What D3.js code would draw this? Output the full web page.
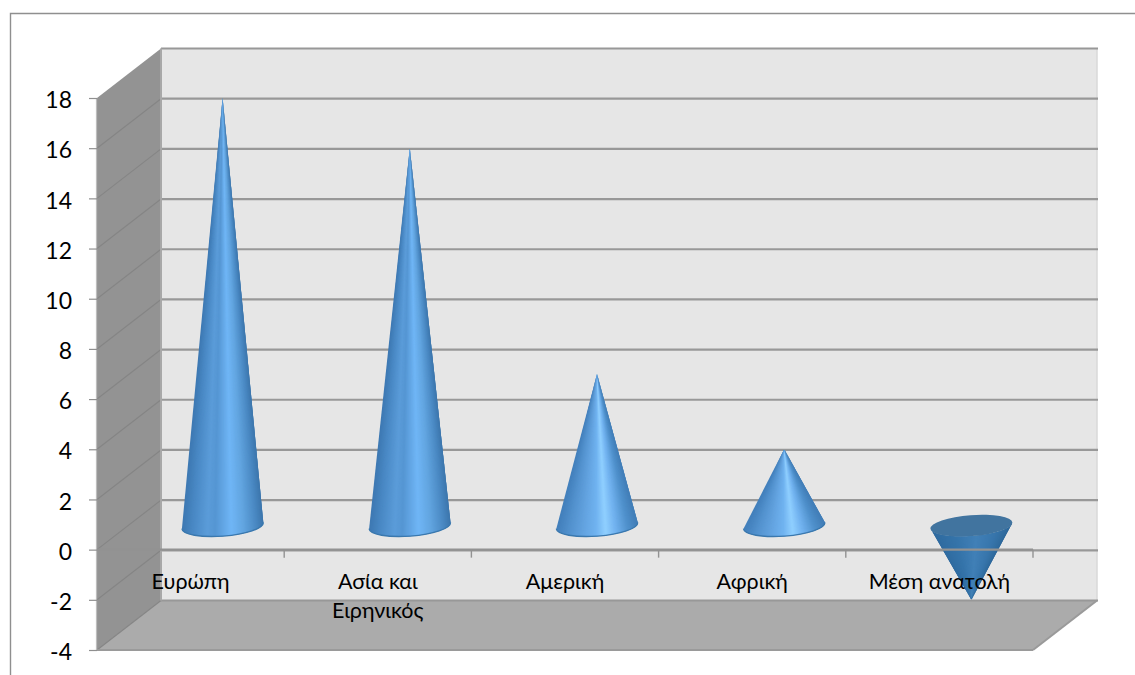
<!DOCTYPE html>
<html>
<head>
<meta charset="utf-8">
<script src="https://cdn.jsdelivr.net/npm/d3@7/dist/d3.min.js"></script>
<style>
html,body{margin:0;padding:0;background:#fff;overflow:hidden}
svg{display:block}
text{font-family:Lato,"Open Sans",sans-serif;fill:#000}
</style>
</head>
<body>
<svg id="chart" width="1135" height="675"></svg>
<script>
const categories = ["Ευρώπη", "Ασία και|Ειρηνικός", "Αμερική", "Αφρική", "Μέση ανατολή"];
const seriesValues = [18, 16, 7, 4, -2];
const tickValues = [18, 16, 14, 12, 10, 8, 6, 4, 2, 0, -2, -4];

const svg = d3.select("#chart");
const depth = {x: 64, y: -49.5};
const y = d3.scaleLinear().domain([-4, 18]).range([650, 98]);
const x = d3.scaleBand().domain(categories).range([97, 1033]);
const yMin = -4, yMax = 18;
const back = (px, py) => [px + depth.x, py + depth.y];

// chart frame, open on the right and at the bottom
svg.append("path").attr("d", "M10.5,675V13.5H1135").attr("fill", "none").attr("stroke", "#8f8f8f").attr("stroke-width", 1.4);

// back wall
const wallL = 97 + depth.x, wallR = 1033 + depth.x;
svg.append("rect").attr("x", wallL).attr("y", y(yMax) + depth.y).attr("width", wallR - wallL)
  .attr("height", y(yMin) - y(yMax)).attr("fill", "#e6e6e6");
svg.append("line").attr("x1", wallR).attr("x2", wallR).attr("y1", y(yMax) + depth.y).attr("y2", y(yMin) + depth.y)
  .attr("stroke", "#d9d9d9").attr("stroke-width", 1.5);

// side wall and floor
svg.append("polygon").attr("fill", "#939393").attr("points", [
  [97, y(yMax)], back(97, y(yMax)), back(97, y(yMin)), [97, y(yMin)]
].join(" "));
svg.append("polygon").attr("fill", "#ababab").attr("points", [
  [97, y(yMin)], back(97, y(yMin)), back(1033, y(yMin)), [1033, y(yMin)]
].join(" "));

// gridlines across the back wall and the side wall
tickValues.forEach(v => {
  svg.append("line").attr("x1", wallL).attr("x2", wallR + 1)
    .attr("y1", y(v) + depth.y).attr("y2", y(v) + depth.y)
    .attr("stroke", "#989898").attr("stroke-width", 2.2);
  svg.append("line").attr("x1", 97).attr("x2", wallL)
    .attr("y1", y(v)).attr("y2", y(v) + depth.y)
    .attr("stroke", "#858585").attr("stroke-width", 1.2).attr("opacity", v === yMax ? 0 : 1);
});
svg.append("line").attr("x1", wallL).attr("x2", wallL).attr("y1", y(yMax) + depth.y).attr("y2", y(yMin) + depth.y)
  .attr("stroke", "#a8a8a8").attr("stroke-width", 2);
svg.append("line").attr("x1", 96.5).attr("x2", 96.5).attr("y1", y(yMax)).attr("y2", y(yMin))
  .attr("stroke", "#bdbdbd").attr("stroke-width", 1.2);
svg.append("line").attr("x1", 1033).attr("x2", wallR).attr("y1", y(yMin)).attr("y2", y(yMin) + depth.y)
  .attr("stroke", "#9a9a9a").attr("stroke-width", 2);
svg.append("line").attr("x1", 97).attr("x2", 1033).attr("y1", y(yMin)).attr("y2", y(yMin))
  .attr("stroke", "#9a9a9a").attr("stroke-width", 2);

// shading around a cone, from its left silhouette to its right one
const ramp = stops => d3.scaleLinear().domain(stops.map(s => s[0])).range(stops.map(s => s[1])).interpolate(d3.interpolateRgb);
const tallShade = ramp([[0, "#3d78b2"], [0.12, "#4988c4"], [0.3, "#5b9cd9"], [0.4, "#5596d3"], [0.6, "#70b6f6"], [0.75, "#62a5e0"], [0.9, "#4b8ac4"], [1, "#3c76ad"]]);
const shortShade = ramp([[0, "#427fbb"], [0.15, "#5392ce"], [0.35, "#66a6e3"], [0.48, "#70b3f0"], [0.6, "#90d0ff"], [0.72, "#72b3f0"], [0.88, "#4f90cb"], [1, "#417db7"]]);
const downShade = ramp([[0, "#2e6a9f"], [0.3, "#3574aa"], [0.55, "#4180b7"], [0.78, "#3876ac"], [1, "#2d6799"]]);

// cones: the apex sits at the value, the base floats just above the zero plane
const rx = 40.8, ry = 10.5, tiltDeg = -4.3;
const baseY = y(0) - 24;
const cones = svg.append("g");
const wedgeCount = 80;
seriesValues.forEach((v, i) => {
  const cx = x(categories[i]) + x.bandwidth() / 2 + depth.x / 2;
  const ay = y(v);
  const a = tiltDeg * Math.PI / 180;
  const rim = theta => {
    const ex = rx * Math.cos(theta), ey = ry * Math.sin(theta);
    return [cx + ex * Math.cos(a) - ey * Math.sin(a), baseY + ex * Math.sin(a) + ey * Math.cos(a)];
  };
  const shadeFor = v < 0 ? downShade : (v > 10 ? tallShade : shortShade);
  const g = cones.append("g");
  // each wedge reaches under the next one, so no seams show between them
  d3.range(wedgeCount).forEach(k => {
    const t0 = k / wedgeCount, t1 = Math.min(1, (k + 3) / wedgeCount), tm = (k + 0.5) / wedgeCount;
    const th0 = Math.acos(1 - 2 * t0), th1 = Math.acos(1 - 2 * t1);
    const mid = Math.acos(1 - 2 * ((t0 + t1) / 2));
    const p0 = rim(Math.PI - th0), pm = rim(Math.PI - mid), p1 = rim(Math.PI - th1);
    g.append("path").attr("d", `M${cx},${ay}L${p0}L${pm}L${p1}Z`).attr("fill", shadeFor(tm));
  });
  const L = rim(Math.PI), R = rim(0);
  const arc = `A${rx},${ry} ${tiltDeg} 0 0 ${R[0]},${R[1]}`;
  if (v >= 0) {
    cones.append("path").attr("d", `M${L[0]},${L[1]}${arc}`).attr("fill", "none")
      .attr("stroke", "#3a78ae").attr("stroke-width", 1.4);
  } else {
    cones.append("ellipse").attr("cx", cx).attr("cy", baseY).attr("rx", rx + 0.3).attr("ry", ry)
      .attr("transform", `rotate(${tiltDeg} ${cx} ${baseY})`).attr("fill", "#41749f");
  }
});

// category axis line in the zero plane, with its ticks, drawn over the cones
svg.append("line").attr("x1", 97).attr("x2", 1033).attr("y1", y(0)).attr("y2", y(0))
  .attr("stroke", "#929292").attr("stroke-width", 2.4);
x.domain().forEach(c => {
  const tx = x(c) + x.bandwidth();
  svg.append("line").attr("x1", tx).attr("x2", tx).attr("y1", y(0)).attr("y2", y(0) + 8)
    .attr("stroke", "#929292").attr("stroke-width", 1.4);
});

// value axis
const yAxis = d3.axisLeft(y).tickValues(tickValues).tickSize(8).tickPadding(17).tickFormat(d => String(d));
const axisG = svg.append("g").attr("transform", "translate(97,0)").call(yAxis);
axisG.select(".domain").remove();
axisG.selectAll("line").attr("stroke", "#8f8f8f").attr("stroke-width", 1.2);
axisG.selectAll("text").attr("font-size", 23).attr("font-family", "Lato").attr("fill", "#000").attr("dy", "0.42em");

// category labels, wrapped on the bar character
categories.forEach(c => {
  const t = svg.append("text").attr("text-anchor", "middle").attr("font-size", 21.5);
  c.split("|").forEach((part, k) => {
    t.append("tspan").attr("x", x(c) + x.bandwidth() / 2).attr("y", 589 + k * 29).text(part);
  });
});
</script>
</body>
</html>
